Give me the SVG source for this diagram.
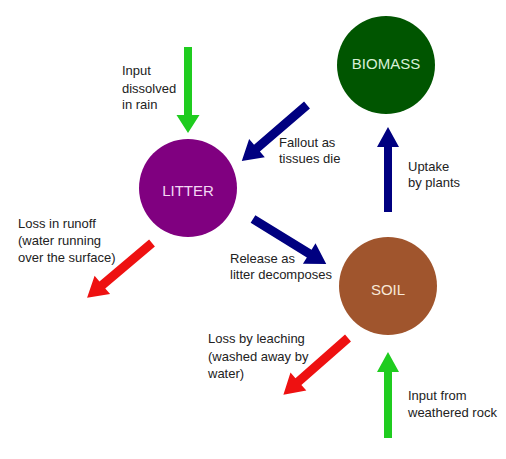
<svg xmlns="http://www.w3.org/2000/svg" width="506" height="459" viewBox="0 0 506 459">
<style>
.lbl{font-family:"Liberation Sans",Arial,sans-serif;font-size:13px;fill:#222}
.node{font-family:"Liberation Sans",Arial,sans-serif;font-size:15px;text-anchor:middle}
.green{fill:#1fcc1f}
.blue{fill:#000080}
.red{fill:#ee1111}
</style>
<rect width="506" height="459" fill="#fff"/>
<g id="biomass">
<circle cx="386" cy="65" r="49" fill="#005500"/>
<text class="node" x="386" y="69" fill="#d8f0d8">BIOMASS</text>
</g>
<g id="litter">
<circle cx="188" cy="188" r="49" fill="#800080"/>
<text class="node" x="188" y="196" fill="#f4d8f4">LITTER</text>
</g>
<g id="soil">
<circle cx="388" cy="286" r="49" fill="#a0552d"/>
<text class="node" x="388" y="295" fill="#f8e8d8">SOIL</text>
</g>
<g id="connectors">
<polygon class="green" points="184,47 192,47 192,115 199.5,115 188,133 176.5,115 184,115"/>
<polygon class="blue" points="384,212 392,212 392,147 399,147 388,127 377,147 384,147"/>
<polygon class="green" points="384,438 392,438 392,372 399,372 388,352 377,372 384,372"/>
<g transform="translate(307,105) rotate(139.3)"><polygon class="blue" points="0,-4.5 66,-4.5 66,-12 86,0 66,12 66,4.5 0,4.5"/></g>
<g transform="translate(253,219) rotate(31.6)"><polygon class="blue" points="0,-4.5 66,-4.5 66,-12 86,0 66,12 66,4.5 0,4.5"/></g>
<g transform="translate(152,243) rotate(139.8)"><polygon class="red" points="0,-4.5 65,-4.5 65,-12 85,0 65,12 65,4.5 0,4.5"/></g>
<g transform="translate(348,338) rotate(138.7)"><polygon class="red" points="0,-4.5 66,-4.5 66,-12 86,0 66,12 66,4.5 0,4.5"/></g>
</g>
<g id="labels">
<text class="lbl" x="122" y="75">Input</text>
<text class="lbl" x="122" y="93">dissolved</text>
<text class="lbl" x="122" y="109">in rain</text>
<text class="lbl" x="279" y="147">Fallout as</text>
<text class="lbl" x="279" y="163">tissues die</text>
<text class="lbl" x="408" y="171">Uptake</text>
<text class="lbl" x="408" y="187">by plants</text>
<text class="lbl" x="18" y="228">Loss in runoff</text>
<text class="lbl" x="18" y="245">(water running</text>
<text class="lbl" x="18" y="262">over the surface)</text>
<text class="lbl" x="230" y="263">Release as</text>
<text class="lbl" x="230" y="279">litter decomposes</text>
<text class="lbl" x="208" y="343">Loss by leaching</text>
<text class="lbl" x="208" y="361">(washed away by</text>
<text class="lbl" x="208" y="378">water)</text>
<text class="lbl" x="408" y="400">Input from</text>
<text class="lbl" x="408" y="417">weathered rock</text>
</g>
</svg>
